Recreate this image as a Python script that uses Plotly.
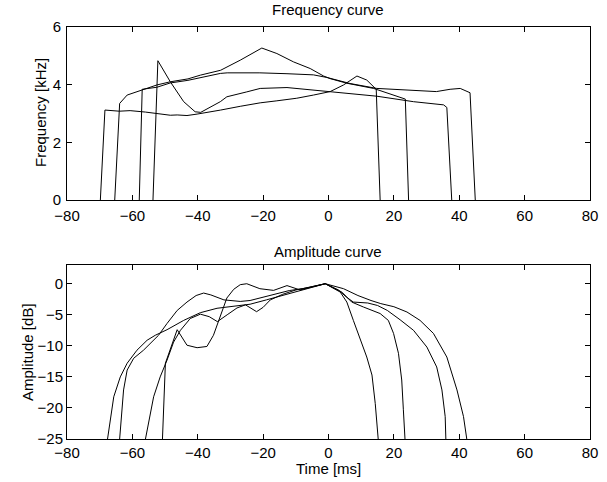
import plotly.graph_objects as go

# frequency curves (time in ms, frequency in kHz)
freq_t1 = [-69.8, -68.4, -64, -60.7, -56, -52.5, -48.4, -46.3, -43.3, -40.2, -36, -33, -27, -20.9, -15.8, -9.7, -4.6, 0.5, 4.6, 8.7, 11.7, 13.8, 14.6, 15.8]
freq_f1 = [0, 3.12, 3.08, 3.10, 3.05, 3.0, 2.94, 2.95, 2.93, 2.98, 3.05, 3.12, 3.25, 3.37, 3.44, 3.53, 3.64, 3.76, 3.99, 4.30, 4.16, 3.91, 3.84, 0]

freq_t2 = [-65.4, -63.9, -61.6, -59.6, -56.6, -52.5, -48.4, -43, -39.2, -33, -27, -20.4, -15.8, -10.7, -5.6, -1.5, 0.5, 5.6, 13.8, 22.9, 23.5, 24.5]
freq_f2 = [0, 3.35, 3.64, 3.72, 3.84, 3.99, 4.10, 4.20, 4.33, 4.50, 4.85, 5.27, 5.08, 4.79, 4.56, 4.30, 4.21, 4.05, 3.87, 3.53, 3.50, 0]

freq_t3 = [-57.9, -57.0, -52.5, -48.4, -43, -39.2, -33.1, -31, -21, -12.7, -4.6, -0.5, 6.6, 14.8, 26, 33, 37.2, 40.3, 43.3, 44.9]
freq_f3 = [0, 3.84, 3.91, 4.06, 4.15, 4.25, 4.39, 4.41, 4.41, 4.38, 4.34, 4.25, 4.04, 3.87, 3.79, 3.76, 3.84, 3.87, 3.72, 0]

freq_t4 = [-53.7, -52.2, -48.4, -44.3, -40.8, -39.1, -33.1, -31.1, -25, -20.9, -12.7, -6.6, -0.5, 14.8, 26, 35.2, 36.2, 37.7]
freq_f4 = [0, 4.83, 4.10, 3.41, 3.06, 3.04, 3.41, 3.58, 3.75, 3.87, 3.90, 3.83, 3.78, 3.60, 3.41, 3.30, 3.21, 0]

# amplitude curves (time in ms, amplitude in dB)
amp_t1 = [-67.6, -65.7, -63.7, -61.6, -58.6, -55.5, -53, -49.4, -44.3, -39.2, -34.1, -29, -24, -19, -14, -9, -5, -1, 3.6, 5.6, 7.6, 9.7, 11.7, 13.3, 14.3, 15.2]
amp_a1 = [-25, -18.2, -15.0, -12.8, -10.7, -9.1, -8.3, -7.4, -5.9, -4.66, -3.95, -3.6, -3.3, -2.6, -1.9, -1.2, -0.6, 0, -1.35, -2.95, -5.9, -9.1, -11.8, -14.7, -19.3, -25]

amp_t2 = [-63.9, -62.7, -61.6, -59.6, -56.6, -54.5, -52, -49.4, -46.3, -43.3, -40.5, -38.2, -36, -32, -27, -24, -20, -16, -12, -8, -4, -1, 4.1, 7.1, 10.7, 15.8, 18.3, 19.9, 21.4, 22.4, 22.9, 23.4]
amp_a2 = [-25, -17.1, -13.9, -12.0, -10.7, -9.6, -8.3, -6.4, -4.3, -2.95, -1.9, -1.5, -1.8, -2.6, -2.85, -2.7, -2.15, -1.6, -1.1, -0.8, -0.4, 0, -1.35, -2.95, -3.75, -4.8, -5.9, -8.0, -11.2, -15.5, -20.3, -25]

amp_t3 = [-56, -53.5, -51.5, -49.4, -47.4, -45.3, -42.3, -39.2, -36.5, -34, -31, -28, -25.4, -23.5, -22, -20, -17.8, -14, -10, -6, -1, 4.6, 9, 13, 16, 20, 24, 28, 32.1, 36.2, 39.3, 41.3, 42.3]
amp_a3 = [-25, -18.2, -15.0, -12.3, -9.4, -7.5, -5.6, -4.9, -5.3, -6.1, -5.0, -3.9, -3.4, -4.0, -4.5, -3.8, -2.6, -1.7, -1.0, -0.6, 0, -0.8, -1.9, -2.7, -3.2, -3.7, -4.55, -5.9, -8.0, -11.8, -17.1, -21.4, -25]

amp_t4 = [-50.8, -49.9, -46.3, -45, -43.3, -40.2, -37.2, -35.2, -33.1, -31.1, -29, -27, -25, -21, -16.8, -12.7, -8.7, -4.6, -1, 3, 5.6, 7.6, 12, 15, 18, 21.9, 26, 30.1, 33.1, 34.7, 35.7, 35.9]
amp_a4 = [-25, -12.8, -7.4, -8.5, -9.9, -10.3, -10.1, -8.3, -5.2, -2.3, -0.9, -0.15, 0, -0.8, -1.07, -0.3, -1.0, -0.5, 0, -1.0, -2.2, -2.95, -3.1, -3.5, -4.3, -5.8, -7.5, -10.2, -13.4, -17.1, -21.4, -25]

x_ticks = [-80, -60, -40, -20, 0, 20, 40, 60, 80]
freq_ticks = [0, 2, 4, 6]
amp_ticks = [-25, -20, -15, -10, -5, 0]

FONT = "Liberation Sans, Arial, sans-serif"
FS = 15
line = dict(color="black", width=1)

fig = go.Figure()
for t, f in [(freq_t1, freq_f1), (freq_t2, freq_f2), (freq_t3, freq_f3), (freq_t4, freq_f4)]:
    fig.add_trace(go.Scatter(x=t, y=f, mode="lines", line=line, xaxis="x", yaxis="y"))
for t, a in [(amp_t1, amp_a1), (amp_t2, amp_a2), (amp_t3, amp_a3), (amp_t4, amp_a4)]:
    fig.add_trace(go.Scatter(x=t, y=a, mode="lines", line=line, xaxis="x2", yaxis="y2"))

axis_style = dict(showline=True, linecolor="black", linewidth=1, mirror="ticks",
                  ticks="inside", ticklen=5, tickcolor="black", showgrid=False,
                  zeroline=False, automargin=False,
                  tickfont=dict(family=FONT, size=FS, color="black"))

fig.update_layout(
    width=607, height=482,
    margin=dict(l=0, r=0, t=0, b=0, autoexpand=False),
    paper_bgcolor="white", plot_bgcolor="white",
    showlegend=False,
    font=dict(family=FONT, size=FS, color="black"),
    xaxis=dict(domain=[0.1104, 0.972], range=[-80, 80], tickvals=x_ticks,
               anchor="y", ticklabelstandoff=2, **axis_style),
    yaxis=dict(domain=[0.585, 0.944], range=[0, 6], tickvals=freq_ticks,
               anchor="x", ticklabelstandoff=2, **axis_style),
    xaxis2=dict(domain=[0.1104, 0.972], range=[-80, 80], tickvals=x_ticks,
                anchor="y2", **axis_style),
    yaxis2=dict(domain=[0.0892, 0.450], range=[-25, 3], tickvals=amp_ticks,
                anchor="x2", **axis_style),
)

annots = [
    dict(text="Frequency curve", x=0.541, y=1 - 9 / 482),
    dict(text="Amplitude curve", x=0.541, y=1 - 251 / 482),
    dict(text="Time [ms]", x=0.541, y=1 - 468 / 482),
    dict(text="Frequency [kHz]", x=40 / 607, y=1 - 113 / 482, textangle=-90),
    dict(text="Amplitude [dB]", x=27 / 607, y=1 - 352 / 482, textangle=-90),
]
for a in annots:
    fig.add_annotation(xref="paper", yref="paper", showarrow=False,
                       xanchor="center", yanchor="middle",
                       font=dict(family=FONT, size=FS, color="black"), **a)

# page body has a default 8px margin; drop it so the figure sits at the corner
fig.write_html("out.html", config={"displayModeBar": False},
               post_script="document.body.style.margin='0px';")
